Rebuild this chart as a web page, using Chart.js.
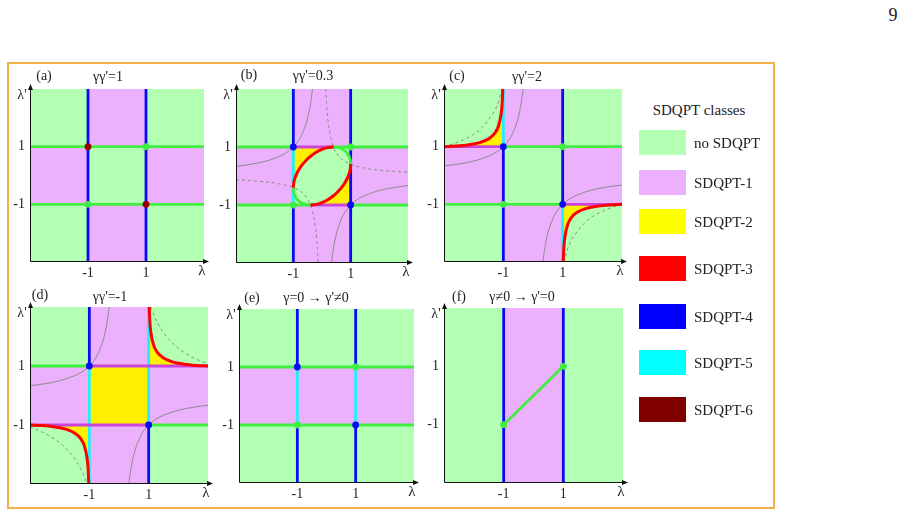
<!DOCTYPE html>
<html>
<head>
<meta charset="utf-8">
<script src="https://cdn.jsdelivr.net/npm/chart.js@4.4.1/dist/chart.umd.min.js"></script>
<style>
  html, body { margin: 0; padding: 0; }
  body { width: 906px; height: 515px; background: #fff; position: relative; overflow: hidden;
         font-family: 'Liberation Serif', 'DejaVu Serif', serif; color: #222; }
  canvas { position: absolute; }
  .t { position: absolute; white-space: nowrap; transform: translate(-50%, -50%); line-height: 1; }
  .lt { position: absolute; white-space: nowrap; transform: translate(0, -50%); line-height: 1; font-size: 15px; }
  .sw { position: absolute; }
  #frame { position: absolute; left: 7px; top: 62px; width: 768px; height: 447px; box-sizing: border-box;
           border: 2px solid #EDB347; }
</style>
</head>
<body>
<div id="frame"></div>
<script>
// ---------------- data ----------------
const tickValues = [-1, 1];
const axisRange = [-3, 3];

const panelLetters = ["(a)", "(b)", "(c)", "(d)", "(e)", "(f)"];
const panelTitles = ["γγ'=1", "γγ'=0.3", "γγ'=2", "γγ'=-1", "γ=0 → γ'≠0", "γ≠0 → γ'=0"];
const legendTitle = "SDQPT classes";
const legendLabels = ["no SDQPT", "SDQPT-1", "SDQPT-2", "SDQPT-3", "SDQPT-4", "SDQPT-5", "SDQPT-6"];
const legendColors = ["#B3FFB3", "#EDB0FF", "#FFFF00", "#FF0000", "#0000FF", "#00FFFF", "#800000"];

// coloured blocks  [λmin, λmax, λ'min, λ'max]
const wholePlane = [-3, 3, -3, 3];
const checkerPink = [[-3, -1, -1, 1], [1, 3, -1, 1], [-1, 1, 1, 3], [-1, 1, -3, -1]];
const centreSquare = [-1, 1, -1, 1];
const rowPink = [-3, 3, -1, 1];
const columnPink = [-1, 1, -3, 3];

// grey reference curves
const greySolidUpper = [[-3, 0.33], [-2.5, 0.4], [-2, 0.5], [-1.5, 0.67], [-1.25, 0.8], [-1, 1], [-0.8, 1.25], [-0.67, 1.5], [-0.5, 2], [-0.4, 2.5], [-0.33, 3]];
const greySolidLower = [[0.33, -3], [0.4, -2.5], [0.5, -2], [0.67, -1.5], [0.8, -1.25], [1, -1], [1.25, -0.8], [1.5, -0.67], [2, -0.5], [2.5, -0.4], [3, -0.33]];

// panel (a)
const aBlue = [[[-1, -3], [-1, 3]], [[1, -3], [1, 3]]];
const aGreen = [[[-3, 1], [3, 1]], [[-3, -1], [3, -1]]];
const aDotsRed = [[-1, 1], [1, -1]];
const aDotsGreen = [[1, 1], [-1, -1]];

// panel (b)
const bBlue = [[[-1, 1], [-1, 3]], [[-1, -3], [-1, -1]], [[1, -3], [1, 3]]];
const bCyan = [[[-1, -1], [-1, 1]]];
const bGreen = [[[-3, 1], [-1, 1]], [[0.4, 1], [3, 1]], [[-3, -1], [-0.4, -1]], [[1, -1], [3, -1]]];
const bMagenta = [[[-1, 1], [0.4, 1]], [[-0.4, -1], [1, -1]]];
const bRedUpper = [[-1, -0.4], [-0.99, -0.267], [-0.97, -0.165], [-0.93, -0.035], [-0.87, 0.104], [-0.8, 0.23], [-0.7, 0.374], [-0.55, 0.545], [-0.4, 0.68], [-0.2, 0.818], [0, 0.917], [0.2, 0.978], [0.3, 0.994], [0.4, 1]];
const bRedLower = [[-0.4, -1], [-0.3, -0.994], [-0.2, -0.978], [0, -0.917], [0.2, -0.818], [0.4, -0.68], [0.55, -0.545], [0.7, -0.374], [0.8, -0.23], [0.87, -0.104], [0.93, 0.035], [0.97, 0.165], [0.99, 0.267], [1, 0.4]];
const bGreenArcUpper = [[0.4, 1], [0.55, 0.985], [0.7, 0.934], [0.8, 0.87], [0.87, 0.8], [0.93, 0.709], [0.97, 0.611], [0.99, 0.525], [1, 0.4]];
const bGreenArcLower = [[-1, -0.4], [-0.99, -0.525], [-0.97, -0.611], [-0.93, -0.709], [-0.87, -0.8], [-0.8, -0.87], [-0.7, -0.934], [-0.55, -0.985], [-0.4, -1]];
const bDashUpper = [[0.13, 3], [0.16, 2.5], [0.2, 2], [0.27, 1.5], [0.4, 1], [0.5, 0.8], [0.63, 0.63], [0.8, 0.5], [1, 0.4], [1.5, 0.27], [2, 0.2], [2.5, 0.16], [3, 0.13]];
const bDashLower = [[-3, -0.13], [-2.5, -0.16], [-2, -0.2], [-1.5, -0.27], [-1, -0.4], [-0.8, -0.5], [-0.63, -0.63], [-0.5, -0.8], [-0.4, -1], [-0.27, -1.5], [-0.2, -2], [-0.16, -2.5], [-0.13, -3]];
const bDotsBlue = [[-1, 1], [1, -1]];
const bDotsGreen = [[1, 1], [-1, -1]];

// panel (c)
const cBlue = [[[-1, -3], [-1, 1]], [[1, -1], [1, 3]]];
const cCyan = [[[-1, 1], [-1, 3]], [[1, -3], [1, -1]]];
const cGreen = [[[-1, 1], [3, 1]], [[-3, -1], [1, -1]]];
const cMagenta = [[[-3, 1], [-1, 1]], [[1, -1], [3, -1]]];
const cRedUpper = [[-3, 1], [-2.6, 1.02], [-2.2, 1.06], [-1.8, 1.14], [-1.5, 1.27], [-1.3, 1.45], [-1.17, 1.7], [-1.08, 2.1], [-1.04, 2.5], [-1.02, 3]];
const cRedLower = [[1.02, -3], [1.04, -2.5], [1.08, -2.1], [1.17, -1.7], [1.3, -1.45], [1.5, -1.27], [1.8, -1.14], [2.2, -1.06], [2.6, -1.02], [3, -1]];
const cDashUpper = [[-3, 1.0], [-2.5, 1.17], [-2, 1.43], [-1.7, 1.68], [-1.45, 2], [-1.2, 2.45], [-1.05, 3]];
const cDashLower = [[1.05, -3], [1.2, -2.45], [1.45, -2], [1.7, -1.68], [2, -1.43], [2.5, -1.17], [3, -1.0]];
const cDotsBlue = [[-1, 1], [1, -1]];
const cDotsGreen = [[1, 1], [-1, -1]];

// panel (d)
const dBlue = [[[-1, 1], [-1, 3]], [[1, -3], [1, -1]]];
const dCyan = [[[-1, -3], [-1, 1]], [[1, -1], [1, 3]]];
const dGreen = [[[-3, 1], [-1, 1]], [[1, -1], [3, -1]]];
const dMagenta = [[[-1, 1], [3, 1]], [[-3, -1], [1, -1]]];
const dRedUpper = [[1.02, 3], [1.04, 2.5], [1.08, 2.1], [1.17, 1.7], [1.3, 1.45], [1.5, 1.27], [1.8, 1.14], [2.2, 1.06], [2.6, 1.02], [3, 1]];
const dRedLower = [[-3, -1], [-2.6, -1.02], [-2.2, -1.06], [-1.8, -1.14], [-1.5, -1.27], [-1.3, -1.45], [-1.17, -1.7], [-1.08, -2.1], [-1.04, -2.5], [-1.02, -3]];
const dDashUpper = [[1.07, 3], [1.28, 2.5], [1.6, 2], [1.79, 1.79], [2, 1.6], [2.5, 1.28], [3, 1.07]];
const dDashLower = [[-3, -1.07], [-2.5, -1.28], [-2, -1.6], [-1.79, -1.79], [-1.6, -2], [-1.28, -2.5], [-1.07, -3]];
const dDotsBlue = [[-1, 1], [1, -1]];

// panel (e)
const eBlue = [[[-1, 1], [-1, 3]], [[-1, -3], [-1, -1]], [[1, 1], [1, 3]], [[1, -3], [1, -1]]];
const eCyan = [[[-1, -1], [-1, 1]], [[1, -1], [1, 1]]];
const eGreen = [[[-3, 1], [3, 1]], [[-3, -1], [3, -1]]];
const eDotsBlue = [[-1, 1], [1, -1]];
const eDotsGreen = [[1, 1], [-1, -1]];

// panel (f)
const fBlue = [[[-1, -3], [-1, 3]], [[1, -3], [1, 3]]];
const fGreen = [[[-1, -1], [1, 1]]];
const fDotsGreen = [[-1, -1], [1, 1]];

// ---------------- styles ----------------
const C = {
  bg: '#B3FFB3', pink: '#ECB1FC', yellow: '#FFEF00', blue: '#0A0AF5', cyan: '#1FEFFF',
  gline: '#40EE40', mag: '#CB45DD', red: '#FF0000', grey: '#8C8C8C', darkred: '#990000'
};
const LW = 2.8;
const RW = 3;

const pts = a => a.map(([x, y]) => ({ x, y }));
const block = (r, color) => ({ data: pts([[r[0], r[3]], [r[1], r[3]]]), fill: { value: r[2] }, backgroundColor: color, borderWidth: 0, pointRadius: 0 });
const segs = (list, color) => list.map(s => ({ data: pts(s), borderColor: color, borderWidth: LW, pointRadius: 0, fill: false }));
const curve = (a, color, w, dash) => ({ data: pts(a), borderColor: color, borderWidth: w, borderDash: dash || [], pointRadius: 0, fill: false, cubicInterpolationMode: 'monotone' });
const yellowFill = (a, to) => ({ data: pts(a), borderWidth: 0, backgroundColor: C.yellow, fill: { value: to }, pointRadius: 0, cubicInterpolationMode: 'monotone' });
const dotSet = (a, color) => ({ data: pts(a), showLine: false, pointRadius: 3.4, pointHoverRadius: 3.4, pointBackgroundColor: color, pointBorderWidth: 0, borderColor: color, backgroundColor: color });
const greyCurves = (dashA, dashB) => [
  curve(greySolidUpper, C.grey, 1), curve(greySolidLower, C.grey, 1),
  curve(dashA, C.grey, 1, [3, 3]), curve(dashB, C.grey, 1, [3, 3])
];

const panels = [
  { box: [30, 89, 204, 262], letter: [44, 76], title: [108, 77],
    sets: () => [block(wholePlane, C.bg), ...checkerPink.map(r => block(r, C.pink)),
      ...segs(aBlue, C.blue), ...segs(aGreen, C.gline),
      dotSet(aDotsRed, C.darkred), dotSet(aDotsGreen, C.gline)] },
  { box: [236, 89, 408, 263], letter: [249, 75], title: [313, 76],
    sets: () => [block(wholePlane, C.bg), ...checkerPink.map(r => block(r, C.pink)),
      yellowFill(bRedUpper, 1), yellowFill(bRedLower, -1),
      ...greyCurves(bDashUpper, bDashLower),
      ...segs(bBlue, C.blue), ...segs(bCyan, C.cyan), ...segs(bGreen, C.gline), ...segs(bMagenta, C.mag),
      curve(bGreenArcUpper, C.gline, LW), curve(bGreenArcLower, C.gline, LW),
      curve(bRedUpper, C.red, RW), curve(bRedLower, C.red, RW),
      dotSet(bDotsBlue, C.blue), dotSet(bDotsGreen, C.gline)] },
  { box: [444, 89, 622, 262], letter: [457, 76], title: [527, 77],
    sets: () => [block(wholePlane, C.bg), ...checkerPink.map(r => block(r, C.pink)),
      yellowFill(cRedUpper, 1), yellowFill(cRedLower, -1),
      ...greyCurves(cDashUpper, cDashLower),
      ...segs(cBlue, C.blue), ...segs(cCyan, C.cyan), ...segs(cGreen, C.gline), ...segs(cMagenta, C.mag),
      curve(cRedUpper, C.red, RW), curve(cRedLower, C.red, RW),
      dotSet(cDotsBlue, C.blue), dotSet(cDotsGreen, C.gline)] },
  { box: [30, 307, 208, 484], letter: [40, 295], title: [110, 297],
    sets: () => [block(wholePlane, C.bg), ...checkerPink.map(r => block(r, C.pink)), block(centreSquare, C.yellow),
      yellowFill(dRedUpper, 1), yellowFill(dRedLower, -1),
      ...greyCurves(dDashUpper, dDashLower),
      ...segs(dBlue, C.blue), ...segs(dCyan, C.cyan), ...segs(dGreen, C.gline), ...segs(dMagenta, C.mag),
      curve(dRedUpper, C.red, RW), curve(dRedLower, C.red, RW),
      dotSet(dDotsBlue, C.blue)] },
  { box: [239, 309, 414, 483], letter: [252, 298], title: [316, 298],
    sets: () => [block(wholePlane, C.bg), block(rowPink, C.pink),
      ...segs(eBlue, C.blue), ...segs(eCyan, C.cyan), ...segs(eGreen, C.gline),
      dotSet(eDotsBlue, C.blue), dotSet(eDotsGreen, C.gline)] },
  { box: [444, 308, 623, 483], letter: [459, 297], title: [522, 297],
    sets: () => [block(wholePlane, C.bg), block(columnPink, C.pink),
      ...segs(fBlue, C.blue), ...segs(fGreen, C.gline),
      dotSet(fDotsGreen, C.gline)] }
];

// ---------------- helpers ----------------
function addText(str, x, y, size, cls) {
  const d = document.createElement('div');
  d.className = cls || 't';
  d.textContent = str;
  d.style.left = x + 'px';
  d.style.top = y + 'px';
  if (size) d.style.fontSize = size + 'px';
  document.body.appendChild(d);
  return d;
}

const axesArrows = {
  id: 'axesArrows',
  afterDraw(chart) {
    const { ctx } = chart;
    const xs = chart.scales.x, ys = chart.scales.y;
    const x0 = Math.round(xs.getPixelForValue(axisRange[0])) + 0.5;
    const x1 = xs.getPixelForValue(axisRange[1]);
    const y0 = Math.round(ys.getPixelForValue(axisRange[0])) - 0.5;
    const y1 = ys.getPixelForValue(axisRange[1]);
    ctx.save();
    ctx.strokeStyle = '#111'; ctx.fillStyle = '#111'; ctx.lineWidth = 1;
    ctx.beginPath();
    ctx.moveTo(x0, y0); ctx.lineTo(x1 + 2, y0);
    ctx.moveTo(x0, y0); ctx.lineTo(x0, y1 - 2);
    ctx.stroke();
    ctx.beginPath();
    ctx.moveTo(x1 + 5, y0); ctx.lineTo(x1 - 1, y0 - 2.5); ctx.lineTo(x1 - 1, y0 + 2.5); ctx.closePath();
    ctx.moveTo(x0, y1 - 5); ctx.lineTo(x0 - 2.5, y1 + 1); ctx.lineTo(x0 + 2.5, y1 + 1); ctx.closePath();
    ctx.fill();
    ctx.restore();
  }
};

const tickFont = { family: "'Liberation Serif', serif", size: 14 };

panels.forEach((p, i) => {
  const [L, T, R, B] = p.box;
  const w = R - L + 50, h = B - T + 55;
  const cv = document.createElement('canvas');
  cv.width = w; cv.height = h;
  cv.style.left = (L - 30) + 'px'; cv.style.top = (T - 30) + 'px';
  cv.style.width = w + 'px'; cv.style.height = h + 'px';
  document.body.appendChild(cv);

  const ds = p.sets();
  ds.forEach((d, k) => { d.order = ds.length - k; d.clip = 0; });

  new Chart(cv, {
    type: 'line',
    data: { datasets: ds },
    options: {
      responsive: false, animation: false, events: [],
      layout: { padding: { left: 0, top: 30, right: 20, bottom: 0 } },
      plugins: { legend: { display: false }, tooltip: { enabled: false } },
      elements: { line: { tension: 0 } },
      scales: {
        x: {
          type: 'linear', min: axisRange[0], max: axisRange[1],
          grid: { display: false, drawTicks: false }, border: { display: false },
          afterBuildTicks: s => { s.ticks = tickValues.map(v => ({ value: v })); },
          afterFit: s => { s.height = 25; },
          ticks: { font: tickFont, color: '#222', padding: 3, maxRotation: 0, autoSkip: false, callback: v => String(v) }
        },
        y: {
          type: 'linear', min: axisRange[0], max: axisRange[1],
          grid: { display: false, drawTicks: false }, border: { display: false },
          afterBuildTicks: s => { s.ticks = tickValues.map(v => ({ value: v })); },
          afterFit: s => { s.width = 30; },
          ticks: { font: tickFont, color: '#222', padding: 5, autoSkip: false, callback: v => String(v) }
        }
      }
    },
    plugins: [axesArrows]
  });

  addText(panelLetters[i], p.letter[0], p.letter[1], 14);
  addText(panelTitles[i], p.title[0], p.title[1], 14);
  addText("λ'", L - 8, T + 6, 14);
  addText("λ", R - 2, B + 8, 15);
});

// legend
addText(legendTitle, 699, 110, 15);
const swatchTops = [130, 170, 209, 256, 304, 350, 397];
legendLabels.forEach((lab, i) => {
  const s = document.createElement('div');
  s.className = 'sw';
  s.style.left = '639px'; s.style.top = swatchTops[i] + 'px';
  s.style.width = '47px'; s.style.height = '25px';
  s.style.background = legendColors[i];
  document.body.appendChild(s);
  addText(lab, 694, swatchTops[i] + 12.5, null, 'lt');
});

// page number
addText("9", 893, 15, 18);
</script>
</body>
</html>
